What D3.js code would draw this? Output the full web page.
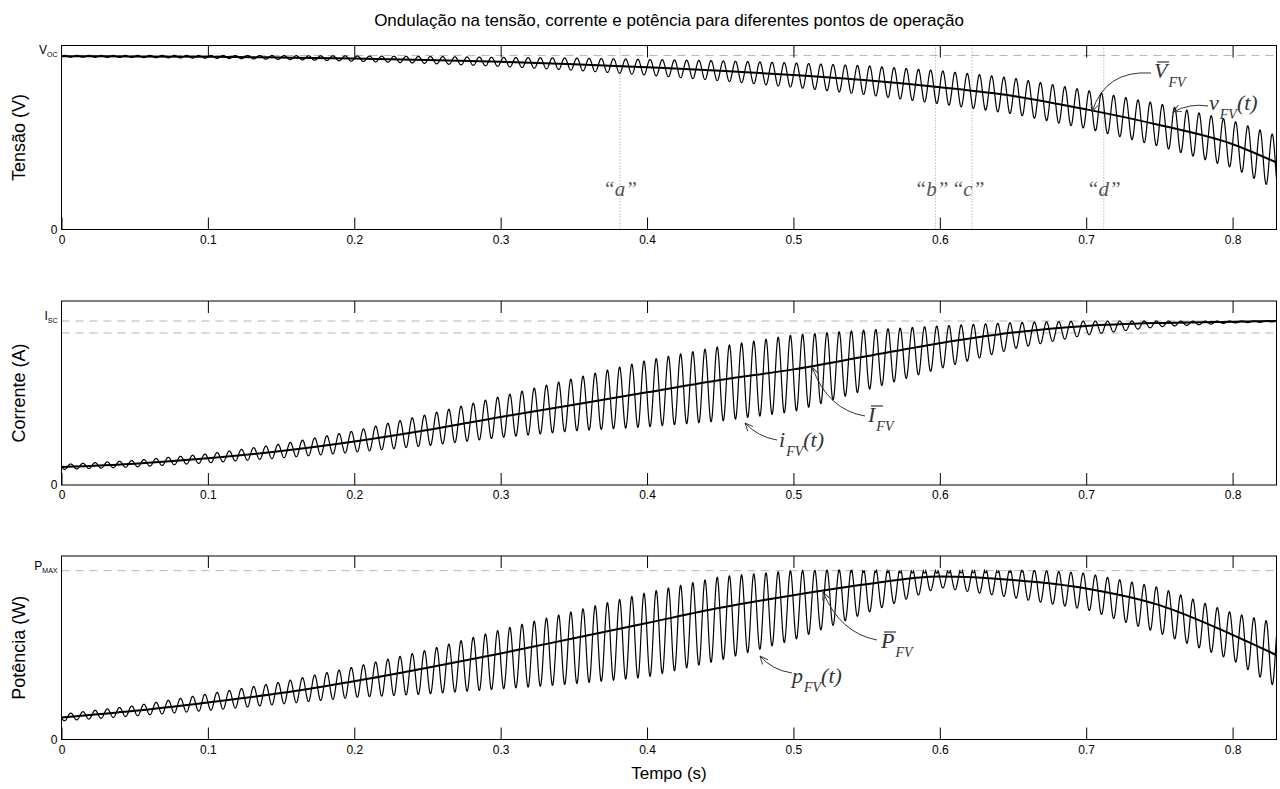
<!DOCTYPE html>
<html>
<head>
<meta charset="utf-8">
<script src="https://cdn.jsdelivr.net/npm/d3@7"></script>
<style>
  body { margin: 0; background: #fff; }
  text { font-family: "Liberation Sans", Arial, sans-serif; fill: #000; }
  .anot { font-family: "Liberation Serif", "Times New Roman", serif; font-style: italic; fill: #333; }
</style>
</head>
<body>
<svg id="grafico" width="1280" height="789"></svg>
<script>
// instantes (s) onde os valores foram lidos
const tempo = [0, 0.05, 0.1, 0.15, 0.2, 0.25, 0.3, 0.35, 0.4, 0.45, 0.5, 0.55, 0.6, 0.65, 0.7, 0.75, 0.8, 0.83];

// tensao normalizada por V_OC
const tensaoMedia = [0.995, 0.994, 0.992, 0.988, 0.982, 0.974, 0.963, 0.95, 0.932, 0.912, 0.887, 0.857, 0.817, 0.767, 0.69, 0.6, 0.49, 0.385];
const tensaoPico  = [1.0, 1.0, 1.0, 0.999, 0.997, 0.994, 0.989, 0.985, 0.977, 0.969, 0.957, 0.94, 0.912, 0.87, 0.8, 0.722, 0.625, 0.54];
const tensaoVale  = [0.99, 0.988, 0.984, 0.977, 0.967, 0.954, 0.937, 0.915, 0.887, 0.855, 0.817, 0.774, 0.722, 0.664, 0.58, 0.478, 0.355, 0.23];

// corrente normalizada por I_SC
const correnteMedia = [0.11, 0.13, 0.163, 0.207, 0.265, 0.335, 0.415, 0.49, 0.565, 0.64, 0.705, 0.785, 0.865, 0.93, 0.97, 0.988, 0.996, 1.0];
const correntePico  = [0.125, 0.15, 0.19, 0.25, 0.33, 0.43, 0.54, 0.65, 0.76, 0.845, 0.915, 0.945, 0.97, 0.99, 1.0, 1.0, 1.0, 1.0];
const correnteVale  = [0.095, 0.11, 0.135, 0.165, 0.2, 0.24, 0.29, 0.33, 0.355, 0.39, 0.447, 0.58, 0.71, 0.83, 0.915, 0.965, 0.988, 0.995];

// potencia normalizada por P_MAX
const potenciaMedia = [0.13, 0.17, 0.22, 0.275, 0.345, 0.425, 0.51, 0.6, 0.69, 0.78, 0.855, 0.92, 0.965, 0.945, 0.895, 0.796, 0.62, 0.5];
const potenciaPico  = [0.15, 0.2, 0.27, 0.34, 0.43, 0.53, 0.65, 0.76, 0.87, 0.965, 1.0, 1.01, 1.015, 1.01, 0.985, 0.9, 0.75, 0.69];
const potenciaVale  = [0.11, 0.14, 0.172, 0.21, 0.25, 0.27, 0.3, 0.33, 0.37, 0.47, 0.59, 0.75, 0.9, 0.84, 0.77, 0.63, 0.47, 0.31];

const freqOndulacao = 120; // Hz
const ticksTempo = [0, 0.1, 0.2, 0.3, 0.4, 0.5, 0.6, 0.7, 0.8];
const pontosNome = ["a", "b", "c", "d"];
const pontosTempo = [0.3815, 0.597, 0.622, 0.712];

const svg = d3.select("#grafico");
const tMax = 0.83;

const x = d3.scaleLinear().domain([0, tMax]).range([61.5, 1276.5]);

// um quadro por grandeza
const paineis = [
  { topo: 45.5, base: 229.5, yMax: 1.057, media: tensaoMedia, pico: tensaoPico, vale: tensaoVale,
    fase: 0, modo: "nenhum", titulo: "Tensão (V)", rotulo: "V", sub: "OC", refs: [1] },
  { topo: 301, base: 485, yMax: 1.122, media: correnteMedia, pico: correntePico, vale: correnteVale,
    fase: Math.PI, modo: "corte", titulo: "Corrente (A)", rotulo: "I", sub: "SC", refs: [1, 0.927] },
  { topo: 556, base: 739.5, yMax: 1.087, media: potenciaMedia, pico: potenciaPico, vale: potenciaVale,
    fase: Math.PI, modo: "dobra", titulo: "Potência (W)", rotulo: "P", sub: "MAX", refs: [1] }
];

// marcador de seta aberta
svg.append("defs").append("marker")
    .attr("id", "seta")
    .attr("viewBox", "0 -5 10 10")
    .attr("refX", 9)
    .attr("refY", 0)
    .attr("markerWidth", 9)
    .attr("markerHeight", 9)
    .attr("markerUnits", "userSpaceOnUse")
    .attr("orient", "auto")
  .append("path")
    .attr("d", "M0,-4L9,0L0,4")
    .attr("fill", "none")
    .attr("stroke", "#333")
    .attr("stroke-width", 1);

function ondulacao(p) {
  const sPico = d3.scaleLinear().domain(tempo).range(p.pico);
  const sVale = d3.scaleLinear().domain(tempo).range(p.vale);
  const n = 8000;
  return d3.range(n + 1).map(function (k) {
    const t = k / n * tMax;
    const s = Math.sin(2 * Math.PI * freqOndulacao * t + p.fase);
    let v = sVale(t) + (sPico(t) - sVale(t)) * (1 + s) / 2;
    if (p.modo === "dobra" && v > 1) v = 2 - v;
    if (p.modo === "corte" && v > 1) v = 1;
    return [t, v];
  });
}

paineis.forEach(function (p, i) {
  const y = d3.scaleLinear().domain([0, p.yMax]).range([p.base, p.topo]);
  const g = svg.append("g");

  // linhas de referencia tracejadas
  p.refs.forEach(function (r) {
    g.append("line")
        .attr("x1", x(0)).attr("x2", x(tMax))
        .attr("y1", y(r)).attr("y2", y(r))
        .attr("stroke", "#b3b3b3")
        .attr("stroke-width", 1)
        .attr("stroke-dasharray", "8,6");
  });

  // pontos de operacao (so no quadro da tensao)
  if (i === 0) {
    pontosTempo.forEach(function (t, k) {
      g.append("line")
          .attr("x1", x(t)).attr("x2", x(t))
          .attr("y1", p.topo).attr("y2", p.base)
          .attr("stroke", "#999")
          .attr("stroke-width", 1)
          .attr("stroke-dasharray", "1,2");
      g.append("text")
          .attr("class", "anot")
          .attr("x", x(t) + (k === 1 || k === 2 ? -4 : 0))
          .attr("y", 196)
          .attr("text-anchor", "middle")
          .style("font-size", "21px")
          .style("fill", "#555")
          .text("\u201C" + pontosNome[k] + "\u201D");
    });
  }

  // forma de onda instantanea
  g.append("path")
      .datum(ondulacao(p))
      .attr("fill", "none")
      .attr("stroke", "#000")
      .attr("stroke-width", 1.2)
      .attr("d", d3.line().x(d => x(d[0])).y(d => y(d[1])));

  // valor medio
  g.append("path")
      .datum(tempo.map((t, k) => [t, p.media[k]]))
      .attr("fill", "none")
      .attr("stroke", "#000")
      .attr("stroke-width", 2)
      .attr("d", d3.line().curve(d3.curveMonotoneX).x(d => x(d[0])).y(d => y(d[1])));

  // moldura
  g.append("rect")
      .attr("x", x(0)).attr("y", p.topo)
      .attr("width", x(tMax) - x(0)).attr("height", p.base - p.topo)
      .attr("fill", "none")
      .attr("stroke", "#000")
      .attr("stroke-width", 1);

  // eixo do tempo com marcas para dentro
  const eixo = g.append("g")
      .attr("transform", "translate(0," + p.base + ")")
      .call(d3.axisBottom(x).tickValues(ticksTempo).tickFormat(d3.format("")).tickSize(-12).tickPadding(6));
  eixo.select(".domain").remove();
  eixo.selectAll("line").attr("stroke", "#000");
  eixo.selectAll("text").attr("dy", "0.95em").style("font-size", "12px");
  eixo.selectAll(".tick text").attr("y", 3);

  const topoEixo = g.append("g")
      .attr("transform", "translate(0," + p.topo + ")")
      .call(d3.axisTop(x).tickValues(ticksTempo.filter(t => t > 0)).tickFormat("").tickSize(-12));
  topoEixo.select(".domain").remove();
  topoEixo.selectAll("line").attr("stroke", "#000");

  // rotulos do eixo y: 0 e o valor de referencia
  g.append("text")
      .attr("x", x(0) - 4).attr("y", p.base + 4)
      .attr("text-anchor", "end")
      .style("font-size", "12px")
      .text("0");
  const rot = g.append("text")
      .attr("x", x(0) - 4).attr("y", y(1) - 1)
      .attr("text-anchor", "end")
      .style("font-size", "12px");
  rot.append("tspan").text(p.rotulo);
  rot.append("tspan").attr("dy", 3).style("font-size", "7px").text(p.sub);

  // titulo do eixo y
  g.append("text")
      .attr("transform", "translate(25," + (p.topo + p.base) / 2 + ") rotate(-90)")
      .attr("text-anchor", "middle")
      .style("font-size", "18px")
      .text(p.titulo);
});

svg.append("text")
    .attr("x", 669).attr("y", 26)
    .attr("text-anchor", "middle")
    .style("font-size", "17px")
    .text("Ondulação na tensão, corrente e potência para diferentes pontos de operação");

svg.append("text")
    .attr("x", 669).attr("y", 779)
    .attr("text-anchor", "middle")
    .style("font-size", "17px")
    .text("Tempo (s)");

// anotacoes com seta curva
function seta(x0, y0, cx, cy, x1, y1) {
  const c = d3.path();
  c.moveTo(x0, y0);
  c.quadraticCurveTo(cx, cy, x1, y1);
  svg.append("path")
      .attr("d", c.toString())
      .attr("fill", "none")
      .attr("stroke", "#333")
      .attr("stroke-width", 1)
      .attr("marker-end", "url(#seta)");
}

function rotulo(xl, yl, letra, barra, sufixo) {
  const t = svg.append("text").attr("class", "anot").attr("x", xl).attr("y", yl);
  t.append("tspan").style("font-size", "22px").text(letra);
  t.append("tspan").attr("dy", 9).attr("dx", 1).style("font-size", "14px").text("FV");
  if (sufixo) t.append("tspan").attr("dy", -9).style("font-size", "22px").text(sufixo);
  if (barra) {
    svg.append("line")
        .attr("x1", xl + 3).attr("x2", xl + 15)
        .attr("y1", yl - 16).attr("y2", yl - 16)
        .attr("stroke", "#333").attr("stroke-width", 1.2);
  }
}

seta(1151, 73, 1105, 70, 1092, 112);
rotulo(1154, 78, "V", true, null);
seta(1208, 106, 1190, 103, 1173, 112);
rotulo(1209, 110, "v", false, "(t)");

seta(865, 416, 828, 410, 812, 367);
rotulo(868, 422, "I", true, null);
seta(777, 440, 758, 437, 745, 423);
rotulo(779, 447, "i", false, "(t)");

seta(877, 640, 840, 633, 823, 592);
rotulo(881, 648, "P", true, null);
seta(792, 673, 772, 670, 760, 656);
rotulo(792, 683, "p", false, "(t)");
</script>
</body>
</html>
